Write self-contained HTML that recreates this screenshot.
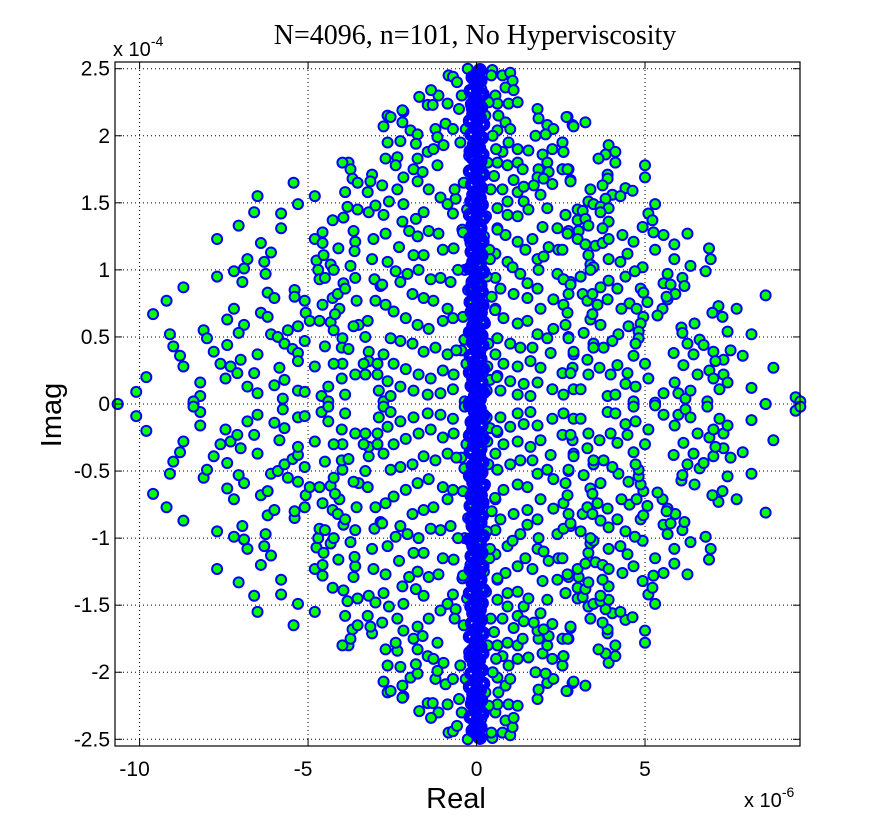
<!DOCTYPE html>
<html><head><meta charset="utf-8"><style>
body{margin:0;background:#fff;}
svg{display:block;font-family:"Liberation Sans",sans-serif;}
</style></head><body>
<svg id="chart" width="885" height="839" viewBox="0 0 885 839" xmlns="http://www.w3.org/2000/svg">
<rect x="0" y="0" width="885" height="839" fill="#fff"/>
<text x="475" y="44" text-anchor="middle" font-family="'Liberation Serif',serif" font-size="28">N=4096, n=101, No Hyperviscosity</text>
<g id="grid"></g>
<g id="points"></g>
<rect x="115" y="62" width="685" height="684" fill="none" stroke="#000" stroke-width="1.2"/>
<g id="ticks" font-size="21"></g>
<text x="113" y="56" font-size="20">x 10<tspan dy="-10" font-size="14">-4</tspan></text>
<text x="744" y="807" font-size="20">x 10<tspan dy="-10" font-size="14">-6</tspan></text>
<text x="456" y="808" text-anchor="middle" font-size="29">Real</text>
<text x="0" y="0" transform="translate(61,415) rotate(-90)" text-anchor="middle" font-size="29">Imag</text>
</svg>
<script>
// x in units of 1e-6, y in units of 1e-4; eigenvalues come in conjugate pairs, upper-half listed
const xTicks = [-10, -5, 0, 5];
const xTickLabels = ["-10", "-5", "0", "5"];
const yTicks = [-2.5, -2, -1.5, -1, -0.5, 0, 0.5, 1, 1.5, 2, 2.5];
const yTickLabels = ["-2.5", "-2", "-1.5", "-1", "-0.5", "0", "0.5", "1", "1.5", "2", "2.5"];
const xDomain = [-10.73, 9.6];
const yDomain = [-2.55, 2.55];
const outerPoints = [
[-5.43,1.65],[-6.5,1.55],[-4.8,1.55],[-5.3,1.49],[-6.6,1.43],[-5.8,1.42],[-7.06,1.33],[-5.8,1.31],[-7.7,1.23],[-6.4,1.2],
[-6.1,1.13],[-6.8,1.08],[-6.3,1.06],[-7.2,0.99],[-6.9,1.01],[-6.95,0.91],[-6.26,0.97],[-7.7,0.95],[-8.7,0.87],[-9.2,0.77],
[-9.6,0.67],[-6.2,0.83],[-6.0,0.79],[-7.2,0.71],[-7.4,0.63],[-6.9,0.59],[-7.06,0.53],[-6.4,0.68],[-6.2,0.65],[-8.1,0.55],
[-8.0,0.49],[-9.1,0.52],[-9.0,0.43],[-8.8,0.36],[-8.7,0.28],[-7.8,0.39],[-7.4,0.44],[-7.6,0.3],[-7.3,0.28],[-7.0,0.33],
[-7.1,0.23],[-7.45,0.19],[-9.8,0.2],[-10.1,0.09],[-10.65,0],[-8.2,0.16],[-8.2,0.06],[-8.4,0.02],[-6.8,0.13],[-6.5,0.08],
[-6.6,0.23],[-6.5,0.37],[-6.1,0.52],[-5.9,0.5],[-5.6,0.55],[-5.3,0.58],[-5.7,0.45],[-5.46,0.41],[-5.3,0.38],[-5.3,0.32],
[-5.85,0.27],[-5.7,0.18],[-6.0,0.14],[-5.75,0.04],[-5.3,0.1],[-5.1,0.09],[-4.8,0.28],[-4.5,0.43],[-5.1,0.47],[-5.4,0.85],
[-5.4,0.8],[-5.1,0.77],[-5.07,0.68],[-4.95,0.62],[-4.66,0.62],[-4.33,0.61],[-4.24,0.55],[-4.57,0.74],[-4.27,0.79],[-4.12,0.82],
[-4.07,0.71],[-4.2,0.67],[-4.75,1.07],[-4.7,1.0],[-4.66,0.93],[-4.5,0.94],[-4.54,1.11],[-4.33,1.04],[-4.24,1.0],[-4.8,1.23],
[-4.57,1.2],[-4.57,1.28],[-4.27,1.37],[-3.9,1.58],[-3.95,1.39],[-3.83,1.47],[-4.1,1.16],[-3.74,1.03],[-3.6,0.94],[-3.95,0.9],
[-3.9,0.86],[-3.56,0.77],[-3.5,0.59],[-3.23,0.62],[-3.53,1.45],[-3.2,1.43],[-3.1,1.71],[-3.15,1.66],[-3.23,1.58],[-3.0,1.48],
[-3.65,1.29],[-3.6,1.21],[-3.62,1.14],[-3.06,1.23],[-3.1,1.08],[-3.03,0.93],[-2.85,0.88],[-3.0,0.77],[-3.8,1.8],[-3.98,1.8],
[-3.74,1.75],[-3.68,1.68],[-3.53,1.65],[-3.3,0.5],[-3.2,0.39],[-3.2,0.32],[-3.35,0.3],[-3.65,0.58],[-3.98,0.49],[-4.0,0.42],
[-3.8,0.41],[-3.98,0.3],[-4.24,0.3],[-3.6,0.22],[-3.3,0.22],[-4.4,0.13],[-4.6,0.06],[-4.4,0.02],[-4.0,0.19],[-3.9,0.07],
[-2.94,0.22],[-2.9,0.1],[-2.76,0.02],[-2.94,0.3],
[-0.83,2.45],[-0.7,2.44],[-1.13,2.3],[-1.45,2.23],[-1.3,2.23],[-0.86,2.24],[-2.64,2.15],[-2.17,2.18],[-2.2,2.1],[-2.76,2.07],
[-1.96,2.04],[-1.75,2.01],[-2.26,1.96],[-1.8,1.94],[-2.64,1.95],[-1.22,2.05],[-1.16,1.99],[-0.92,2.09],[-0.7,2.05],[-1.45,1.88],
[-1.28,1.9],[-0.98,1.93],[-2.35,1.84],[-2.7,1.83],[-2.4,1.78],[-1.75,1.83],[-1.87,1.75],[-1.6,1.73],[-1.16,1.78],[-2.17,1.69],
[-1.75,1.66],[-1.42,1.6],[-2.8,1.63],[-2.35,1.6],[-2.6,1.51],[-2.17,1.49],[-1.07,1.54],[-0.86,1.49],[-0.7,1.42],[-0.62,1.53],
[-1.57,1.43],[-1.8,1.38],[-2.76,1.41],[-2.2,1.36],[-2.7,1.27],[-2.0,1.29],[-1.42,1.29],[-1.13,1.27],[-1.75,1.25],[-2.3,1.17],
[-1.0,1.15],[-0.68,1.16],[-1.87,1.11],[-1.57,1.11],[-2.64,1.06],[-2.4,0.99],[-2.05,0.97],[-1.72,1.0],[-1.36,0.93],[-1.07,0.94],
[-0.77,0.91],[-2.8,0.89],[-2.26,0.91],[-1.9,0.82],[-1.57,0.79],[-1.28,0.77],[-0.86,0.71],[-2.7,0.74],[-2.46,0.69],[-2.1,0.64],
[-1.75,0.59],[-1.42,0.56],[-1.0,0.62],[-0.7,0.64],[-2.55,0.49],[-2.26,0.47],[-1.9,0.45],[-1.57,0.39],[-1.22,0.42],[-0.86,0.37],
[-2.76,0.37],[-2.46,0.3],[-2.1,0.26],[-1.72,0.22],[-1.36,0.19],[-1.0,0.25],[-0.68,0.22],[-2.64,0.17],[-2.26,0.13],[-1.87,0.1],
[-1.45,0.07],[-1.07,0.08],[-0.7,0.11],[-2.55,0.06],[-2.2,2.19],[-1.7,2.29],[-1.35,2.34],[-2.55,2.14],
[0.47,2.49],[0.77,2.45],[1.0,2.47],[1.07,2.41],[0.86,2.36],[1.1,2.34],[0.56,2.3],[0.62,2.24],[0.95,2.24],[1.22,2.25],
[1.81,2.2],[1.84,2.13],[2.7,2.14],[2.85,2.08],[0.65,2.15],[0.86,2.1],[1.0,2.05],[0.62,2.04],[2.1,2.08],[2.28,2.05],
[1.75,2.0],[2.05,2.01],[0.95,1.95],[1.22,1.9],[1.54,1.89],[2.55,1.95],[2.25,1.9],[2.58,1.88],[1.96,1.86],[2.1,1.8],
[0.77,1.88],[0.62,1.8],[0.92,1.78],[1.22,1.8],[1.37,1.75],[1.84,1.75],[2.14,1.73],[2.55,1.75],[2.73,1.75],[1.81,1.69],
[1.99,1.68],[2.25,1.64],[2.79,1.67],[1.1,1.67],[0.77,1.6],[1.22,1.58],[1.4,1.62],[1.7,1.63],[1.9,1.56],[1.4,1.51],
[1.54,1.45],[2.1,1.46],[2.64,1.41],[3.0,1.45],[0.92,1.51],[0.62,1.46],[0.92,1.41],[1.22,1.4],[1.96,1.32],[2.4,1.31],
[2.73,1.29],[3.03,1.29],[0.62,1.31],[0.86,1.26],[1.22,1.21],[1.66,1.23],[2.14,1.17],[2.43,1.15],[1.45,1.15],[1.81,1.08],
[1.99,1.1],[0.56,1.12],[0.92,1.06],[1.07,1.02],[1.3,0.97],[1.84,1.0],[2.4,0.97],[2.79,0.91],[0.56,0.94],[1.51,0.9],
[1.81,0.86],[0.71,0.86],[1.1,0.82],[1.51,0.79],[2.28,0.78],[2.58,0.74],[1.9,0.71],[0.56,0.71],[0.8,0.64],[1.22,0.6],
[1.51,0.62],[2.28,0.56],[2.73,0.5],[2.1,0.49],[1.81,0.52],[0.62,0.49],[1.0,0.45],[1.3,0.42],[1.66,0.42],[2.2,0.38],
[2.88,0.37],[0.56,0.37],[0.8,0.3],[1.22,0.28],[1.6,0.32],[1.9,0.27],[2.55,0.23],[2.85,0.27],[0.62,0.21],[1.0,0.17],
[1.4,0.15],[1.81,0.16],[2.25,0.11],[2.58,0.07],[0.71,0.1],[1.22,0.07],[1.6,0.06],
[2.67,2.14],[2.88,2.07],[3.23,2.1],[2.55,1.95],[2.58,1.88],[3.92,1.93],[4.12,1.88],[3.83,1.86],[3.62,1.83],[4.12,1.8],
[2.55,1.75],[2.7,1.75],[2.79,1.66],[5.0,1.78],[5.0,1.69],[3.89,1.71],[3.89,1.68],[3.74,1.63],[3.38,1.6],[4.42,1.61],
[4.63,1.59],[4.03,1.56],[4.27,1.55],[3.83,1.53],[3.32,1.51],[3.47,1.49],[3.68,1.47],[3.92,1.46],[3.68,1.43],[5.3,1.49],
[3.15,1.44],[2.64,1.41],[3.0,1.37],[3.23,1.38],[3.32,1.33],[3.92,1.36],[3.74,1.31],[5.1,1.42],[5.22,1.37],[4.93,1.32],
[5.25,1.28],[5.55,1.26],[6.26,1.27],[4.33,1.26],[2.7,1.27],[3.0,1.23],[3.23,1.19],[3.53,1.18],[3.74,1.2],[3.92,1.23],
[4.66,1.21],[5.3,1.15],[5.87,1.19],[5.87,1.08],[6.9,1.16],[6.95,1.08],[6.35,1.03],[6.8,0.99],[4.48,1.12],[4.27,1.06],
[3.92,1.08],[3.32,1.11],[3.38,1.04],[3.47,1.02],[3.38,1.0],[2.55,1.15],[4.93,1.02],[4.7,0.99],[4.42,0.95],[3.92,0.92],
[3.68,0.87],[3.09,0.95],[2.58,0.93],[2.79,0.89],[2.73,0.82],[3.15,0.82],[3.29,0.77],[3.44,0.82],[4.18,0.86],[3.89,0.78],
[3.59,0.74],[4.87,0.86],[4.95,0.83],[5.07,0.76],[4.54,0.75],[4.75,0.71],[4.3,0.71],[5.55,0.9],[5.67,0.97],[5.76,0.89],
[6.11,0.94],[6.17,0.88],[5.9,0.82],[5.67,0.78],[5.64,0.8],[5.52,0.71],[5.37,0.66],[4.95,0.65],[4.87,0.6],[4.51,0.58],
[4.81,0.54],[4.81,0.49],[4.72,0.45],[4.21,0.52],[4.03,0.47],[3.77,0.42],[3.47,0.45],[3.68,0.59],[3.38,0.63],[3.44,0.67],
[3.18,0.53],[2.73,0.49],[2.64,0.59],[2.7,0.68],[7.18,0.73],[7.0,0.68],[7.3,0.65],[7.72,0.71],[8.58,0.81],[7.45,0.54],
[8.16,0.52],[6.08,0.57],[6.11,0.53],[6.47,0.6],[6.62,0.48],[6.74,0.44],[6.26,0.45],[6.44,0.37],[7.03,0.39],[7.54,0.4],
[7.9,0.36],[7.33,0.33],[7.09,0.32],[8.81,0.27],[6.14,0.29],[6.56,0.22],[6.91,0.25],[7.03,0.19],[7.33,0.22],[7.45,0.16],
[5.85,0.38],[5.88,0.16],[5.99,0.08],[6.2,0.04],[6.35,0.1],[5.55,0.08],[5.3,0.01],[5.1,0.19],[5.0,0.3],[4.66,0.36],
[4.48,0.23],[4.18,0.29],[3.98,0.22],[3.65,0.27],[3.32,0.22],[3.29,0.33],[3.47,0.42],[2.88,0.39],[2.79,0.23],[2.88,0.11],
[3.09,0.11],[3.89,0.06],[4.12,0.07],[4.42,0.15],[4.72,0.13],[4.66,0.02],[6.85,0.02],[7.21,0.11],[8.16,0.12],[8.58,0],
[9.47,0.05],[9.61,0.02]
];
const columnRe = [-0.35,0.05,0.3,-0.15,0.4,-0.05,0.2,-0.3,0.1,-0.45,0.35,-0.2,0.0,0.25,-0.4,0.15,-0.1,0.45,-0.25,0.05,
0.3,-0.35,0.1,-0.05,0.38,-0.18,0.22,-0.42,0.0,0.28,-0.28,0.12,-0.12,0.42,-0.38,0.18,-0.02,0.33,-0.22,0.08,
-0.48,0.48,-0.32,0.02,0.26,-0.14,0.36,-0.44,0.14,-0.06,0.44,-0.26,0.06,0.32,-0.36,0.16,-0.16,0.4,-0.4,0.0,
-0.6,0.55,-0.55,0.62,-0.65,0.58,-0.52,0.6,-0.58,0.52];
const columnIm = [0.02,0.06,0.1,0.14,0.18,0.22,0.26,0.3,0.35,0.4,0.45,0.5,0.55,0.6,0.65,0.7,0.75,0.8,0.85,0.9,
0.95,1.0,1.05,1.1,1.15,1.2,1.25,1.3,1.35,1.4,1.45,1.5,1.55,1.6,1.65,1.7,1.75,1.8,1.85,1.9,
1.95,2.0,2.05,2.1,2.15,2.2,2.25,2.3,2.35,2.4,2.45,2.5,0.08,0.28,0.48,0.68,0.88,1.08,1.28,1.48,
0.4,0.7,1.0,1.3,1.6,1.9,2.2,0.2,2.4,1.7];
// dense core of the central band (near-zero real parts)
const coreRe = [-0.2,0.1,-0.05,0.2,0.0,-0.15,0.15,-0.1,0.05,-0.2,0.2,0.0,-0.08,0.12,-0.18,0.08,-0.02,0.18,-0.12,0.02,
0.15,-0.2,0.05,-0.1,0.2,-0.05,0.1,-0.15,0.0,0.18,-0.18,0.06,-0.06,0.16,-0.16,0.12,-0.12,0.02,-0.02,0.2,
-0.2,0.1,-0.1,0.0,0.15,-0.15,0.05,-0.05,0.18,-0.18,0.08,-0.08,0.12,-0.12,0.0,0.2,-0.2,0.04,-0.04,0.16,
-0.16,0.1,-0.1,0.0,0.14,-0.14,0.06,-0.06,0.2,-0.2,0.02,-0.02,0.12,-0.12,0.18,-0.18,0.08,-0.08,0.0,0.16,
-0.16,0.04,-0.04,0.2,-0.2,0.1,-0.1,0.0,0.14,-0.14,0.06,-0.06,0.18,-0.18,0.02,-0.02,0.12,-0.12,0.0,0.1];
const coreIm = [0.01,0.035,0.06,0.085,0.11,0.135,0.16,0.185,0.21,0.235,0.26,0.285,0.31,0.335,0.36,0.385,0.41,0.435,0.46,0.485,
0.51,0.535,0.56,0.585,0.61,0.635,0.66,0.685,0.71,0.735,0.76,0.785,0.81,0.835,0.86,0.885,0.91,0.935,0.96,0.985,
1.01,1.035,1.06,1.085,1.11,1.135,1.16,1.185,1.21,1.235,1.26,1.285,1.31,1.335,1.36,1.385,1.41,1.435,1.46,1.485,
1.51,1.535,1.56,1.585,1.61,1.635,1.66,1.685,1.71,1.735,1.76,1.785,1.81,1.835,1.86,1.885,1.91,1.935,1.96,1.985,
2.01,2.035,2.06,2.085,2.11,2.135,2.16,2.185,2.21,2.235,2.26,2.285,2.31,2.335,2.36,2.385,2.41,2.435,2.46,2.49];

const L=115,R=800,T=62,B=746;
function sx(v){return L+(v-xDomain[0])/(xDomain[1]-xDomain[0])*(R-L);}
function sy(v){return B-(v-yDomain[0])/(yDomain[1]-yDomain[0])*(B-T);}
const NS="http://www.w3.org/2000/svg";
const grid=document.getElementById('grid'),ticks=document.getElementById('ticks'),pts=document.getElementById('points');
function mk(tag,attrs,parent){const e=document.createElementNS(NS,tag);for(const k in attrs)e.setAttribute(k,attrs[k]);parent.appendChild(e);return e;}
xTicks.forEach((t,i)=>{
  const x=sx(t);
  const g=mk('line',{x1:x,x2:x,y1:T,y2:B,stroke:'#000','stroke-width':1,'stroke-dasharray':'1,3'},grid);
  
  
  const a=mk('line',{x1:x,x2:x,y1:B,y2:B-7,stroke:'#000'},ticks);
  
  
  const b=mk('line',{x1:x,x2:x,y1:T,y2:T+7,stroke:'#000'},ticks);
  
  
  const tx=mk('text',{x:x-(t<0?5:0),y:B+30,'text-anchor':'middle'},ticks);
  tx.textContent=xTickLabels[i];
  
  
});
yTicks.forEach((t,i)=>{
  const y=sy(t);
  const g=mk('line',{x1:L,x2:R,y1:y,y2:y,stroke:'#000','stroke-width':1,'stroke-dasharray':'1,3'},grid);
  
  
  const a=mk('line',{x1:L,x2:L+7,y1:y,y2:y,stroke:'#000'},ticks);
  
  
  const b=mk('line',{x1:R,x2:R-7,y1:y,y2:y,stroke:'#000'},ticks);
  
  
  const tx=mk('text',{x:L-5,y:y+7,'text-anchor':'end'},ticks);
  tx.textContent=yTickLabels[i];
  
  
});
function dot(re,im,fill,stroke,r,sw){
  const c=mk('circle',{cx:sx(re),cy:sy(im),r:r,fill:fill,stroke:stroke,'stroke-width':sw},pts);
  
  
}
outerPoints.forEach(p=>{dot(p[0],p[1],'#00ff00','#0000ff',5,2);dot(p[0],-p[1],'#00ff00','#0000ff',5,2);});
columnRe.forEach((re,i)=>{dot(re,columnIm[i],'#00ff00','#0000ff',5,2);dot(re,-columnIm[i],'#00ff00','#0000ff',5,2);});
// central band: heavily overlapping edges read as solid blue
coreRe.forEach((re,i)=>{dot(re,coreIm[i],'none','#0000ff',4,6);dot(re,-coreIm[i],'none','#0000ff',4,6);});
</script>
</body></html>
